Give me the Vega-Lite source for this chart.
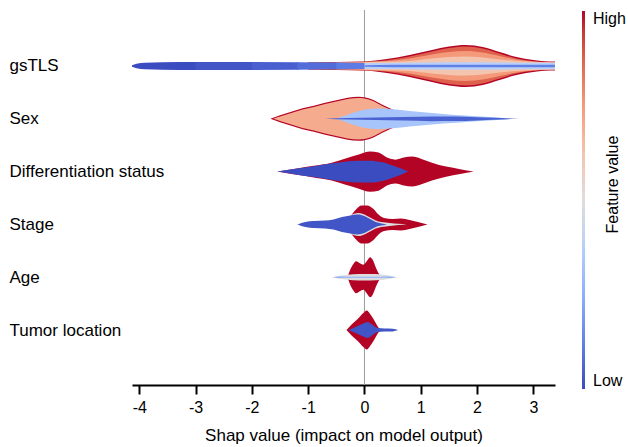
{
 "$schema": "https://vega.github.io/schema/vega-lite/v6.json",
 "width": 423, "height": 375,
 "autosize": {"type": "none"},
 "padding": {"left": 132, "top": 10, "right": 73, "bottom": 62},
 "config": {"font": "Liberation Sans", "view": {"stroke": null}, "axis": {"grid": false}},
 "resolve": {"axis": {"y": "independent"}},
 "layer": [
  {"data": {"values": [{"x": 0, "top": -0.06, "bottom": 7.04}]},
   "mark": {"type": "rule", "color": "#9a9a9a", "strokeWidth": 1},
   "encoding": {"x": {"field": "x", "type": "quantitative"},
     "y": {"field": "top", "type": "quantitative",
       "axis": {"orient": "right", "title": "Feature value", "labels": false, "ticks": false, "domain": false,
         "titleAngle": 270, "titleX": 57, "titleY": 174, "titleAlign": "center", "titleBaseline": "middle",
         "titleFontSize": 16, "titleFontWeight": "normal", "titleColor": "black"}},
     "y2": {"field": "bottom"}}},
  {"data": {"values": [
{"s":"gR1","k":1,"v":1,"x":-1.0,"lo":0.934,"hi":1.066},
{"s":"gR1","k":1,"v":1,"x":-0.5,"lo":0.924,"hi":1.076},
{"s":"gR1","k":1,"v":1,"x":0,"lo":0.913,"hi":1.087},
{"s":"gR1","k":1,"v":1,"x":0.4,"lo":0.867,"hi":1.133},
{"s":"gR1","k":1,"v":1,"x":0.8,"lo":0.792,"hi":1.208},
{"s":"gR1","k":1,"v":1,"x":1.2,"lo":0.697,"hi":1.303},
{"s":"gR1","k":1,"v":1,"x":1.5,"lo":0.631,"hi":1.369},
{"s":"gR1","k":1,"v":1,"x":1.8,"lo":0.602,"hi":1.398},
{"s":"gR1","k":1,"v":1,"x":2.1,"lo":0.640,"hi":1.360},
{"s":"gR1","k":1,"v":1,"x":2.4,"lo":0.735,"hi":1.265},
{"s":"gR1","k":1,"v":1,"x":2.7,"lo":0.830,"hi":1.170},
{"s":"gR1","k":1,"v":1,"x":3.0,"lo":0.886,"hi":1.114},
{"s":"gR1","k":1,"v":1,"x":3.2,"lo":0.909,"hi":1.091},
{"s":"gR1","k":1,"v":1,"x":3.385,"lo":0.915,"hi":1.085},
{"s":"gR2","k":2,"v":0.875,"x":-1.0,"lo":0.936,"hi":1.064},
{"s":"gR2","k":2,"v":0.875,"x":-0.5,"lo":0.928,"hi":1.072},
{"s":"gR2","k":2,"v":0.875,"x":0,"lo":0.920,"hi":1.080},
{"s":"gR2","k":2,"v":0.875,"x":0.4,"lo":0.890,"hi":1.110},
{"s":"gR2","k":2,"v":0.875,"x":0.8,"lo":0.820,"hi":1.180},
{"s":"gR2","k":2,"v":0.875,"x":1.2,"lo":0.725,"hi":1.275},
{"s":"gR2","k":2,"v":0.875,"x":1.5,"lo":0.659,"hi":1.341},
{"s":"gR2","k":2,"v":0.875,"x":1.8,"lo":0.631,"hi":1.369},
{"s":"gR2","k":2,"v":0.875,"x":2.1,"lo":0.669,"hi":1.331},
{"s":"gR2","k":2,"v":0.875,"x":2.4,"lo":0.763,"hi":1.237},
{"s":"gR2","k":2,"v":0.875,"x":2.7,"lo":0.858,"hi":1.142},
{"s":"gR2","k":2,"v":0.875,"x":3.0,"lo":0.909,"hi":1.091},
{"s":"gR2","k":2,"v":0.875,"x":3.2,"lo":0.924,"hi":1.076},
{"s":"gR2","k":2,"v":0.875,"x":3.385,"lo":0.928,"hi":1.072},
{"s":"gR3","k":3,"v":0.75,"x":-0.5,"lo":0.936,"hi":1.064},
{"s":"gR3","k":3,"v":0.75,"x":0,"lo":0.924,"hi":1.076},
{"s":"gR3","k":3,"v":0.75,"x":0.4,"lo":0.905,"hi":1.095},
{"s":"gR3","k":3,"v":0.75,"x":0.8,"lo":0.858,"hi":1.142},
{"s":"gR3","k":3,"v":0.75,"x":1.2,"lo":0.782,"hi":1.218},
{"s":"gR3","k":3,"v":0.75,"x":1.5,"lo":0.735,"hi":1.265},
{"s":"gR3","k":3,"v":0.75,"x":1.8,"lo":0.716,"hi":1.284},
{"s":"gR3","k":3,"v":0.75,"x":2.1,"lo":0.744,"hi":1.256},
{"s":"gR3","k":3,"v":0.75,"x":2.4,"lo":0.811,"hi":1.189},
{"s":"gR3","k":3,"v":0.75,"x":2.7,"lo":0.877,"hi":1.123},
{"s":"gR3","k":3,"v":0.75,"x":3.0,"lo":0.915,"hi":1.085},
{"s":"gR3","k":3,"v":0.75,"x":3.2,"lo":0.928,"hi":1.072},
{"s":"gR3","k":3,"v":0.75,"x":3.385,"lo":0.932,"hi":1.068},
{"s":"gR4","k":4,"v":0.62,"x":0,"lo":0.928,"hi":1.072},
{"s":"gR4","k":4,"v":0.62,"x":0.4,"lo":0.920,"hi":1.080},
{"s":"gR4","k":4,"v":0.62,"x":0.8,"lo":0.905,"hi":1.095},
{"s":"gR4","k":4,"v":0.62,"x":1.2,"lo":0.858,"hi":1.142},
{"s":"gR4","k":4,"v":0.62,"x":1.5,"lo":0.830,"hi":1.170},
{"s":"gR4","k":4,"v":0.62,"x":1.8,"lo":0.820,"hi":1.180},
{"s":"gR4","k":4,"v":0.62,"x":2.1,"lo":0.839,"hi":1.161},
{"s":"gR4","k":4,"v":0.62,"x":2.4,"lo":0.877,"hi":1.123},
{"s":"gR4","k":4,"v":0.62,"x":2.7,"lo":0.905,"hi":1.095},
{"s":"gR4","k":4,"v":0.62,"x":3.0,"lo":0.924,"hi":1.076},
{"s":"gR4","k":4,"v":0.62,"x":3.385,"lo":0.934,"hi":1.066},
{"s":"gLB","k":5,"v":0.375,"x":0,"lo":0.943,"hi":1.057},
{"s":"gLB","k":5,"v":0.375,"x":0.4,"lo":0.943,"hi":1.057},
{"s":"gLB","k":5,"v":0.375,"x":1.0,"lo":0.934,"hi":1.066},
{"s":"gLB","k":5,"v":0.375,"x":1.8,"lo":0.928,"hi":1.072},
{"s":"gLB","k":5,"v":0.375,"x":2.5,"lo":0.934,"hi":1.066},
{"s":"gLB","k":5,"v":0.375,"x":3.0,"lo":0.939,"hi":1.061},
{"s":"gLB","k":5,"v":0.375,"x":3.385,"lo":0.939,"hi":1.061},
{"s":"gT1","k":5,"v":0,"x":-4.13,"lo":0.985,"hi":1.015},
{"s":"gT1","k":5,"v":0,"x":-4.05,"lo":0.958,"hi":1.042},
{"s":"gT1","k":5,"v":0,"x":-3.9,"lo":0.939,"hi":1.061},
{"s":"gT1","k":5,"v":0,"x":-3.6,"lo":0.930,"hi":1.070},
{"s":"gT1","k":5,"v":0,"x":-2.97,"lo":0.926,"hi":1.074},
{"s":"gT2","k":5,"v":0.02,"x":-3.0,"lo":0.926,"hi":1.074},
{"s":"gT2","k":5,"v":0.02,"x":-1.97,"lo":0.926,"hi":1.074},
{"s":"gT3","k":5,"v":0.045,"x":-2.0,"lo":0.926,"hi":1.074},
{"s":"gT3","k":5,"v":0.045,"x":-1.17,"lo":0.929,"hi":1.071},
{"s":"gT4","k":5,"v":0.075,"x":-1.2,"lo":0.929,"hi":1.071},
{"s":"gT4","k":5,"v":0.075,"x":-0.47,"lo":0.936,"hi":1.064},
{"s":"gT5","k":5,"v":0.11,"x":-0.5,"lo":0.936,"hi":1.064},
{"s":"gT5","k":5,"v":0.11,"x":0,"lo":0.943,"hi":1.057},
{"s":"gC","k":6,"v":0.12,"x":0,"lo":0.985,"hi":1.015},
{"s":"gC","k":6,"v":0.12,"x":0.5,"lo":0.977,"hi":1.023},
{"s":"gC","k":6,"v":0.12,"x":1.5,"lo":0.975,"hi":1.025},
{"s":"gC","k":6,"v":0.12,"x":2.5,"lo":0.975,"hi":1.025},
{"s":"gC","k":6,"v":0.12,"x":3.385,"lo":0.975,"hi":1.025},
{"s":"sR","k":1,"v":1,"x":-1.67,"lo":2,"hi":2},
{"s":"sR","k":1,"v":1,"x":-1.5,"lo":1.934,"hi":2.066},
{"s":"sR","k":1,"v":1,"x":-1.3,"lo":1.867,"hi":2.133},
{"s":"sR","k":1,"v":1,"x":-1.1,"lo":1.801,"hi":2.199},
{"s":"sR","k":1,"v":1,"x":-0.9,"lo":1.754,"hi":2.246},
{"s":"sR","k":1,"v":1,"x":-0.7,"lo":1.697,"hi":2.303},
{"s":"sR","k":1,"v":1,"x":-0.5,"lo":1.650,"hi":2.350},
{"s":"sR","k":1,"v":1,"x":-0.3,"lo":1.602,"hi":2.398},
{"s":"sR","k":1,"v":1,"x":-0.1,"lo":1.583,"hi":2.417},
{"s":"sR","k":1,"v":1,"x":0.0,"lo":1.593,"hi":2.407},
{"s":"sR","k":1,"v":1,"x":0.15,"lo":1.640,"hi":2.360},
{"s":"sR","k":1,"v":1,"x":0.3,"lo":1.725,"hi":2.275},
{"s":"sR","k":1,"v":1,"x":0.45,"lo":1.801,"hi":2.199},
{"s":"sR","k":1,"v":1,"x":0.6,"lo":1.867,"hi":2.133},
{"s":"sR","k":1,"v":1,"x":0.75,"lo":1.943,"hi":2.057},
{"s":"sR","k":1,"v":1,"x":0.85,"lo":2,"hi":2},
{"s":"sP","k":2,"v":0.7,"x":-1.62,"lo":2,"hi":2},
{"s":"sP","k":2,"v":0.7,"x":-1.5,"lo":1.958,"hi":2.042},
{"s":"sP","k":2,"v":0.7,"x":-1.3,"lo":1.892,"hi":2.108},
{"s":"sP","k":2,"v":0.7,"x":-1.1,"lo":1.826,"hi":2.174},
{"s":"sP","k":2,"v":0.7,"x":-0.9,"lo":1.778,"hi":2.222},
{"s":"sP","k":2,"v":0.7,"x":-0.7,"lo":1.722,"hi":2.278},
{"s":"sP","k":2,"v":0.7,"x":-0.5,"lo":1.674,"hi":2.326},
{"s":"sP","k":2,"v":0.7,"x":-0.3,"lo":1.627,"hi":2.373},
{"s":"sP","k":2,"v":0.7,"x":-0.1,"lo":1.608,"hi":2.392},
{"s":"sP","k":2,"v":0.7,"x":0.0,"lo":1.617,"hi":2.383},
{"s":"sP","k":2,"v":0.7,"x":0.15,"lo":1.665,"hi":2.335},
{"s":"sP","k":2,"v":0.7,"x":0.3,"lo":1.750,"hi":2.250},
{"s":"sP","k":2,"v":0.7,"x":0.45,"lo":1.826,"hi":2.174},
{"s":"sP","k":2,"v":0.7,"x":0.6,"lo":1.892,"hi":2.108},
{"s":"sP","k":2,"v":0.7,"x":0.75,"lo":1.962,"hi":2.038},
{"s":"sP","k":2,"v":0.7,"x":0.82,"lo":2,"hi":2},
{"s":"sLB","k":3,"v":0.33,"x":-0.5,"lo":2,"hi":2},
{"s":"sLB","k":3,"v":0.33,"x":-0.35,"lo":1.943,"hi":2.057},
{"s":"sLB","k":3,"v":0.33,"x":-0.2,"lo":1.886,"hi":2.114},
{"s":"sLB","k":3,"v":0.33,"x":-0.05,"lo":1.839,"hi":2.161},
{"s":"sLB","k":3,"v":0.33,"x":0.1,"lo":1.814,"hi":2.186},
{"s":"sLB","k":3,"v":0.33,"x":0.3,"lo":1.807,"hi":2.193},
{"s":"sLB","k":3,"v":0.33,"x":0.5,"lo":1.820,"hi":2.180},
{"s":"sLB","k":3,"v":0.33,"x":0.8,"lo":1.852,"hi":2.148},
{"s":"sLB","k":3,"v":0.33,"x":1.1,"lo":1.883,"hi":2.117},
{"s":"sLB","k":3,"v":0.33,"x":1.4,"lo":1.909,"hi":2.091},
{"s":"sLB","k":3,"v":0.33,"x":1.7,"lo":1.932,"hi":2.068},
{"s":"sLB","k":3,"v":0.33,"x":2.0,"lo":1.953,"hi":2.047},
{"s":"sLB","k":3,"v":0.33,"x":2.3,"lo":1.972,"hi":2.028},
{"s":"sLB","k":3,"v":0.33,"x":2.5,"lo":1.991,"hi":2.009},
{"s":"sLB","k":3,"v":0.33,"x":2.6,"lo":2,"hi":2},
{"s":"sC","k":4,"v":0.05,"x":-0.7,"lo":2,"hi":2},
{"s":"sC","k":4,"v":0.05,"x":-0.3,"lo":1.985,"hi":2.015},
{"s":"sC","k":4,"v":0.05,"x":0.2,"lo":1.975,"hi":2.025},
{"s":"sC","k":4,"v":0.05,"x":0.7,"lo":1.966,"hi":2.034},
{"s":"sC","k":4,"v":0.05,"x":1.2,"lo":1.956,"hi":2.044},
{"s":"sC","k":4,"v":0.05,"x":1.6,"lo":1.958,"hi":2.042},
{"s":"sC","k":4,"v":0.05,"x":2.0,"lo":1.970,"hi":2.030},
{"s":"sC","k":4,"v":0.05,"x":2.3,"lo":1.981,"hi":2.019},
{"s":"sC","k":4,"v":0.05,"x":2.6,"lo":1.994,"hi":2.006},
{"s":"sC","k":4,"v":0.05,"x":2.75,"lo":2,"hi":2},
{"s":"dR","k":1,"v":1,"x":-1.55,"lo":3,"hi":3},
{"s":"dR","k":1,"v":1,"x":-1.2,"lo":2.939,"hi":3.061},
{"s":"dR","k":1,"v":1,"x":-0.9,"lo":2.890,"hi":3.110},
{"s":"dR","k":1,"v":1,"x":-0.6,"lo":2.835,"hi":3.165},
{"s":"dR","k":1,"v":1,"x":-0.35,"lo":2.754,"hi":3.246},
{"s":"dR","k":1,"v":1,"x":-0.1,"lo":2.678,"hi":3.322},
{"s":"dR","k":1,"v":1,"x":0.1,"lo":2.621,"hi":3.379},
{"s":"dR","k":1,"v":1,"x":0.25,"lo":2.640,"hi":3.360},
{"s":"dR","k":1,"v":1,"x":0.4,"lo":2.735,"hi":3.265},
{"s":"dR","k":1,"v":1,"x":0.55,"lo":2.773,"hi":3.227},
{"s":"dR","k":1,"v":1,"x":0.7,"lo":2.735,"hi":3.265},
{"s":"dR","k":1,"v":1,"x":0.85,"lo":2.716,"hi":3.284},
{"s":"dR","k":1,"v":1,"x":1.0,"lo":2.754,"hi":3.246},
{"s":"dR","k":1,"v":1,"x":1.2,"lo":2.830,"hi":3.170},
{"s":"dR","k":1,"v":1,"x":1.45,"lo":2.905,"hi":3.095},
{"s":"dR","k":1,"v":1,"x":1.7,"lo":2.953,"hi":3.047},
{"s":"dR","k":1,"v":1,"x":1.94,"lo":3,"hi":3},
{"s":"dB","k":2,"v":0,"x":-1.55,"lo":3,"hi":3},
{"s":"dB","k":2,"v":0,"x":-1.2,"lo":2.943,"hi":3.057},
{"s":"dB","k":2,"v":0,"x":-0.9,"lo":2.896,"hi":3.104},
{"s":"dB","k":2,"v":0,"x":-0.6,"lo":2.848,"hi":3.152},
{"s":"dB","k":2,"v":0,"x":-0.35,"lo":2.811,"hi":3.189},
{"s":"dB","k":2,"v":0,"x":-0.1,"lo":2.792,"hi":3.208},
{"s":"dB","k":2,"v":0,"x":0.1,"lo":2.792,"hi":3.208},
{"s":"dB","k":2,"v":0,"x":0.3,"lo":2.820,"hi":3.180},
{"s":"dB","k":2,"v":0,"x":0.5,"lo":2.886,"hi":3.114},
{"s":"dB","k":2,"v":0,"x":0.65,"lo":2.943,"hi":3.057},
{"s":"dB","k":2,"v":0,"x":0.78,"lo":3,"hi":3},
{"s":"tR","k":1,"v":1,"x":-0.34,"lo":4,"hi":4},
{"s":"tR","k":1,"v":1,"x":-0.25,"lo":3.848,"hi":4.152},
{"s":"tR","k":1,"v":1,"x":-0.15,"lo":3.716,"hi":4.284},
{"s":"tR","k":1,"v":1,"x":-0.05,"lo":3.640,"hi":4.360},
{"s":"tR","k":1,"v":1,"x":0.05,"lo":3.640,"hi":4.360},
{"s":"tR","k":1,"v":1,"x":0.15,"lo":3.697,"hi":4.303},
{"s":"tR","k":1,"v":1,"x":0.25,"lo":3.811,"hi":4.189},
{"s":"tR","k":1,"v":1,"x":0.35,"lo":3.877,"hi":4.123},
{"s":"tR","k":1,"v":1,"x":0.5,"lo":3.896,"hi":4.104},
{"s":"tR","k":1,"v":1,"x":0.65,"lo":3.886,"hi":4.114},
{"s":"tR","k":1,"v":1,"x":0.8,"lo":3.915,"hi":4.085},
{"s":"tR","k":1,"v":1,"x":0.95,"lo":3.953,"hi":4.047},
{"s":"tR","k":1,"v":1,"x":1.12,"lo":4,"hi":4},
{"s":"tG","k":2,"v":0.5,"x":-0.3,"lo":3.858,"hi":4.142},
{"s":"tG","k":2,"v":0.5,"x":-0.2,"lo":3.801,"hi":4.199},
{"s":"tG","k":2,"v":0.5,"x":-0.1,"lo":3.782,"hi":4.218},
{"s":"tG","k":2,"v":0.5,"x":0,"lo":3.811,"hi":4.189},
{"s":"tG","k":2,"v":0.5,"x":0.1,"lo":3.867,"hi":4.133},
{"s":"tG","k":2,"v":0.5,"x":0.2,"lo":3.924,"hi":4.076},
{"s":"tG","k":2,"v":0.5,"x":0.3,"lo":3.953,"hi":4.047},
{"s":"tG","k":2,"v":0.5,"x":0.45,"lo":3.972,"hi":4.028},
{"s":"tG","k":2,"v":0.5,"x":0.6,"lo":3.987,"hi":4.013},
{"s":"tG","k":2,"v":0.5,"x":0.75,"lo":4,"hi":4},
{"s":"tB","k":3,"v":0.02,"x":-1.19,"lo":4,"hi":4},
{"s":"tB","k":3,"v":0.02,"x":-1.05,"lo":3.953,"hi":4.047},
{"s":"tB","k":3,"v":0.02,"x":-0.9,"lo":3.934,"hi":4.066},
{"s":"tB","k":3,"v":0.02,"x":-0.7,"lo":3.924,"hi":4.076},
{"s":"tB","k":3,"v":0.02,"x":-0.55,"lo":3.905,"hi":4.095},
{"s":"tB","k":3,"v":0.02,"x":-0.4,"lo":3.858,"hi":4.142},
{"s":"tB","k":3,"v":0.02,"x":-0.25,"lo":3.830,"hi":4.170},
{"s":"tB","k":3,"v":0.02,"x":-0.12,"lo":3.811,"hi":4.189},
{"s":"tB","k":3,"v":0.02,"x":0,"lo":3.839,"hi":4.161},
{"s":"tB","k":3,"v":0.02,"x":0.1,"lo":3.896,"hi":4.104},
{"s":"tB","k":3,"v":0.02,"x":0.2,"lo":3.953,"hi":4.047},
{"s":"tB","k":3,"v":0.02,"x":0.3,"lo":3.981,"hi":4.019},
{"s":"tB","k":3,"v":0.02,"x":0.4,"lo":4,"hi":4},
{"s":"aR","k":1,"v":1,"x":-0.3,"lo":5,"hi":5},
{"s":"aR","k":1,"v":1,"x":-0.25,"lo":4.848,"hi":5.152},
{"s":"aR","k":1,"v":1,"x":-0.2,"lo":4.754,"hi":5.246},
{"s":"aR","k":1,"v":1,"x":-0.15,"lo":4.697,"hi":5.303},
{"s":"aR","k":1,"v":1,"x":-0.08,"lo":4.735,"hi":5.265},
{"s":"aR","k":1,"v":1,"x":-0.02,"lo":4.763,"hi":5.237},
{"s":"aR","k":1,"v":1,"x":0.04,"lo":4.697,"hi":5.303},
{"s":"aR","k":1,"v":1,"x":0.1,"lo":4.621,"hi":5.379},
{"s":"aR","k":1,"v":1,"x":0.15,"lo":4.678,"hi":5.322},
{"s":"aR","k":1,"v":1,"x":0.2,"lo":4.811,"hi":5.189},
{"s":"aR","k":1,"v":1,"x":0.25,"lo":4.924,"hi":5.076},
{"s":"aR","k":1,"v":1,"x":0.3,"lo":5,"hi":5},
{"s":"aG","k":2,"v":0.5,"x":-0.58,"lo":5,"hi":5},
{"s":"aG","k":2,"v":0.5,"x":-0.45,"lo":4.972,"hi":5.028},
{"s":"aG","k":2,"v":0.5,"x":-0.3,"lo":4.953,"hi":5.047},
{"s":"aG","k":2,"v":0.5,"x":-0.1,"lo":4.939,"hi":5.061},
{"s":"aG","k":2,"v":0.5,"x":0.1,"lo":4.939,"hi":5.061},
{"s":"aG","k":2,"v":0.5,"x":0.3,"lo":4.947,"hi":5.053},
{"s":"aG","k":2,"v":0.5,"x":0.45,"lo":4.972,"hi":5.028},
{"s":"aG","k":2,"v":0.5,"x":0.58,"lo":5,"hi":5},
{"s":"aB","k":3,"v":0.25,"x":-0.56,"lo":5,"hi":5},
{"s":"aB","k":3,"v":0.25,"x":-0.45,"lo":4.987,"hi":5.013},
{"s":"aB","k":3,"v":0.25,"x":-0.3,"lo":4.991,"hi":5.009},
{"s":"aB","k":3,"v":0.25,"x":0.3,"lo":4.991,"hi":5.009},
{"s":"aB","k":3,"v":0.25,"x":0.45,"lo":4.987,"hi":5.013},
{"s":"aB","k":3,"v":0.25,"x":0.56,"lo":5,"hi":5},
{"s":"uR","k":1,"v":1,"x":-0.32,"lo":6,"hi":6},
{"s":"uR","k":1,"v":1,"x":-0.22,"lo":5.886,"hi":6.114},
{"s":"uR","k":1,"v":1,"x":-0.12,"lo":5.792,"hi":6.208},
{"s":"uR","k":1,"v":1,"x":-0.02,"lo":5.678,"hi":6.322},
{"s":"uR","k":1,"v":1,"x":0.04,"lo":5.631,"hi":6.369},
{"s":"uR","k":1,"v":1,"x":0.1,"lo":5.697,"hi":6.303},
{"s":"uR","k":1,"v":1,"x":0.17,"lo":5.811,"hi":6.189},
{"s":"uR","k":1,"v":1,"x":0.23,"lo":5.924,"hi":6.076},
{"s":"uR","k":1,"v":1,"x":0.28,"lo":6,"hi":6},
{"s":"uB","k":2,"v":0.02,"x":-0.28,"lo":6,"hi":6},
{"s":"uB","k":2,"v":0.02,"x":-0.2,"lo":5.962,"hi":6.038},
{"s":"uB","k":2,"v":0.02,"x":-0.1,"lo":5.915,"hi":6.085},
{"s":"uB","k":2,"v":0.02,"x":0.0,"lo":5.867,"hi":6.133},
{"s":"uB","k":2,"v":0.02,"x":0.06,"lo":5.848,"hi":6.152},
{"s":"uB","k":2,"v":0.02,"x":0.12,"lo":5.886,"hi":6.114},
{"s":"uB","k":2,"v":0.02,"x":0.18,"lo":5.934,"hi":6.066},
{"s":"uB","k":2,"v":0.02,"x":0.24,"lo":5.962,"hi":6.038},
{"s":"uB","k":2,"v":0.02,"x":0.35,"lo":5.972,"hi":6.028},
{"s":"uB","k":2,"v":0.02,"x":0.5,"lo":5.975,"hi":6.025},
{"s":"uB","k":2,"v":0.02,"x":0.6,"lo":6,"hi":6}
  ]},
   "encoding": {
    "x": {"field": "x", "type": "quantitative",
      "scale": {"domain": [-4.13, 3.385], "nice": false, "zero": false},
      "axis": {"values": [-4,-3,-2,-1,0,1,2,3], "labelExpr": "'' + datum.value", "title": "Shap value (impact on model output)",
        "domainColor": "black", "domainWidth": 2, "tickColor": "black", "tickWidth": 2, "tickSize": 9,
        "labelFontSize": 16, "labelColor": "black", "labelPadding": 5, "labelFlush": false,
        "titleFontSize": 17, "titleFontWeight": "normal", "titleColor": "black", "titlePadding": 12}},
    "y": {"field": "lo", "type": "quantitative",
      "scale": {"domain": [-0.06, 7.04], "reverse": true, "nice": false, "zero": false},
      "axis": {"orient": "left", "values": [1,2,3,4,5,6], "labelExpr": "['','gsTLS','Sex','Differentiation status','Stage','Age','Tumor location'][datum.value]",
        "domain": false, "ticks": false, "labelAlign": "left", "labelBaseline": "middle", "labelPadding": 123,
        "labelFontSize": 17, "labelColor": "black", "title": null, "labelBound": false}},
    "y2": {"field": "hi"},
    "detail": {"field": "s"},
    "color": {"field": "v", "type": "quantitative",
      "scale": {"domain": [0,0.125,0.25,0.375,0.5,0.625,0.75,0.875,1],
        "range": ["#3b4cc0","#6282ea","#8db0fe","#b8d0f9","#dddddd","#f5c4ac","#f49a7b","#de614d","#b40426"]},
      "legend": {"orient": "none", "legendX": 450, "legendY": 1, "direction": "vertical", "gradientLength": 378,
        "gradientThickness": 3, "gradientStrokeWidth": 0, "values": [0, 1],
        "labelExpr": "datum.value > 0.5 ? 'High' : 'Low'", "labelFontSize": 16, "labelColor": "black",
        "labelOffset": 8, "title": null, "padding": 0}}
   },
   "layer": [
    {"transform": [{"filter": "datum.k == 1"}], "mark": {"type": "area", "interpolate": "monotone"}},
    {"transform": [{"filter": "datum.k == 2"}], "mark": {"type": "area", "interpolate": "monotone"}},
    {"transform": [{"filter": "datum.k == 3"}], "mark": {"type": "area", "interpolate": "monotone"}},
    {"transform": [{"filter": "datum.k == 4"}], "mark": {"type": "area", "interpolate": "monotone"}},
    {"transform": [{"filter": "datum.k == 5"}], "mark": {"type": "area", "interpolate": "monotone"}},
    {"transform": [{"filter": "datum.k == 6"}], "mark": {"type": "area", "interpolate": "monotone"}}
   ]}
 ]
}
